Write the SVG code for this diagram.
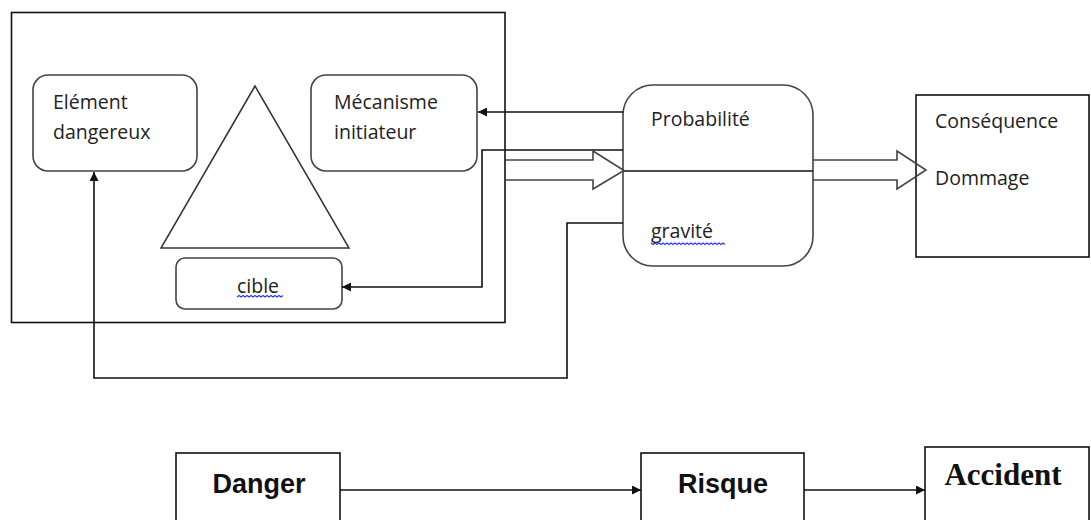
<svg xmlns="http://www.w3.org/2000/svg" width="1091" height="520" viewBox="0 0 1091 520">
  <style>
    .t { font-family: "Open Sans", "Noto Sans", "Liberation Sans", sans-serif; font-size: 19.5px; fill: #222; }
    .b { font-family: "Liberation Sans", Arial, sans-serif; font-weight: bold; font-size: 27px; fill: #111; }
    .tb { font-family: "Liberation Serif", "Times New Roman", serif; font-weight: bold; font-size: 31px; fill: #111; }
    .rnd { fill: #fff; stroke: #444; stroke-width: 1.6; }
    .box { fill: #fff; stroke: #111; stroke-width: 1.6; }
    .ln { fill: none; stroke: #111; stroke-width: 1.6; }
    .blk { fill: none; stroke: #444; stroke-width: 1.6; stroke-linejoin: miter; }
    .sq { fill: none; stroke: #2a3cf0; stroke-width: 1.2; }
  </style>
  <defs>
    <marker id="ah" viewBox="0 0 10 10" refX="10" refY="5" markerWidth="11" markerHeight="9" markerUnits="userSpaceOnUse" orient="auto">
      <path d="M0,0 L10,5 L0,10 z" fill="#111"/>
    </marker>
  </defs>
  <rect width="1091" height="520" fill="#fff"/>

  <g id="systeme">
    <rect x="11.5" y="12.5" width="493.5" height="310" class="box" fill="none"/>
  </g>

  <g id="element-dangereux">
    <rect x="33" y="75" width="164" height="96" rx="15" class="rnd"/>
    <text x="53" y="109" class="t">Elément</text>
    <text x="53" y="139" class="t">dangereux</text>
  </g>

  <g id="triangle">
    <polygon points="255,86 161,248 349,248" fill="#fff" stroke="#333" stroke-width="1.5"/>
  </g>

  <g id="mecanisme-initiateur">
    <rect x="311" y="75" width="166" height="96" rx="15" class="rnd"/>
    <text x="334" y="109" class="t">Mécanisme</text>
    <text x="334" y="139" class="t">initiateur</text>
  </g>

  <g id="cible">
    <rect x="176" y="258" width="166" height="51" rx="9" class="rnd"/>
    <text x="237" y="293" class="t">cible</text>
    <path class="sq" d="M237,297 l2,-1.5 l2,1.5 l2,-1.5 l2,1.5 l2,-1.5 l2,1.5 l2,-1.5 l2,1.5 l2,-1.5 l2,1.5 l2,-1.5 l2,1.5 l2,-1.5 l2,1.5 l2,-1.5 l2,1.5 l2,-1.5 l2,1.5 l2,-1.5 l2,1.5 l2,-1.5 l2,1.5 l2,-1.5"/>
  </g>

  <g id="probabilite-gravite">
    <rect x="623" y="85" width="190" height="181" rx="30" class="rnd"/>
    <line x1="623" y1="171" x2="813" y2="171" class="ln"/>
    <text x="651" y="126" class="t">Probabilité</text>
    <text x="651" y="238" class="t">gravité</text>
    <path class="sq" d="M651,243 l2,1.5 l2,-1.5 l2,1.5 l2,-1.5 l2,1.5 l2,-1.5 l2,1.5 l2,-1.5 l2,1.5 l2,-1.5 l2,1.5 l2,-1.5 l2,1.5 l2,-1.5 l2,1.5 l2,-1.5 l2,1.5 l2,-1.5 l2,1.5 l2,-1.5 l2,1.5 l2,-1.5 l2,1.5 l2,-1.5 l2,1.5 l2,-1.5 l2,1.5 l2,-1.5 l2,1.5 l2,-1.5 l2,1.5 l2,-1.5 l2,1.5 l2,-1.5 l2,1.5 l2,-1.5 l2,1.5"/>
  </g>

  <g id="consequence-dommage">
    <rect x="916" y="95" width="173" height="162" class="box"/>
    <text x="935" y="128" class="t">Conséquence</text>
    <text x="935" y="185" class="t">Dommage</text>
  </g>

  <g id="danger">
    <rect x="176" y="453" width="164" height="90" class="box"/>
    <text x="259" y="493" class="b" text-anchor="middle">Danger</text>
  </g>

  <g id="risque">
    <rect x="641" y="453" width="163" height="90" class="box"/>
    <text x="723" y="493" class="b" text-anchor="middle">Risque</text>
  </g>

  <g id="accident">
    <rect x="925" y="447" width="164" height="96" class="box"/>
    <text x="1003" y="485" class="tb" text-anchor="middle">Accident</text>
  </g>

  <g id="connectors">
    <path class="ln" d="M623,112 H478" marker-end="url(#ah)"/>
    <path class="ln" d="M623,150 H482 V287 H342" marker-end="url(#ah)"/>
    <path class="ln" d="M623,223 H567 V378 H94 V172" marker-end="url(#ah)"/>
    <path class="blk" d="M506,160 H593 V151 L624,170.5 L593,189 V180 H506"/>
    <path class="blk" d="M813,160 H897 V151 L926,170 L897,189 V180 H813"/>
    <path class="ln" d="M340,490 H641" marker-end="url(#ah)"/>
    <path class="ln" d="M804,490 H925" marker-end="url(#ah)"/>
  </g>
</svg>
